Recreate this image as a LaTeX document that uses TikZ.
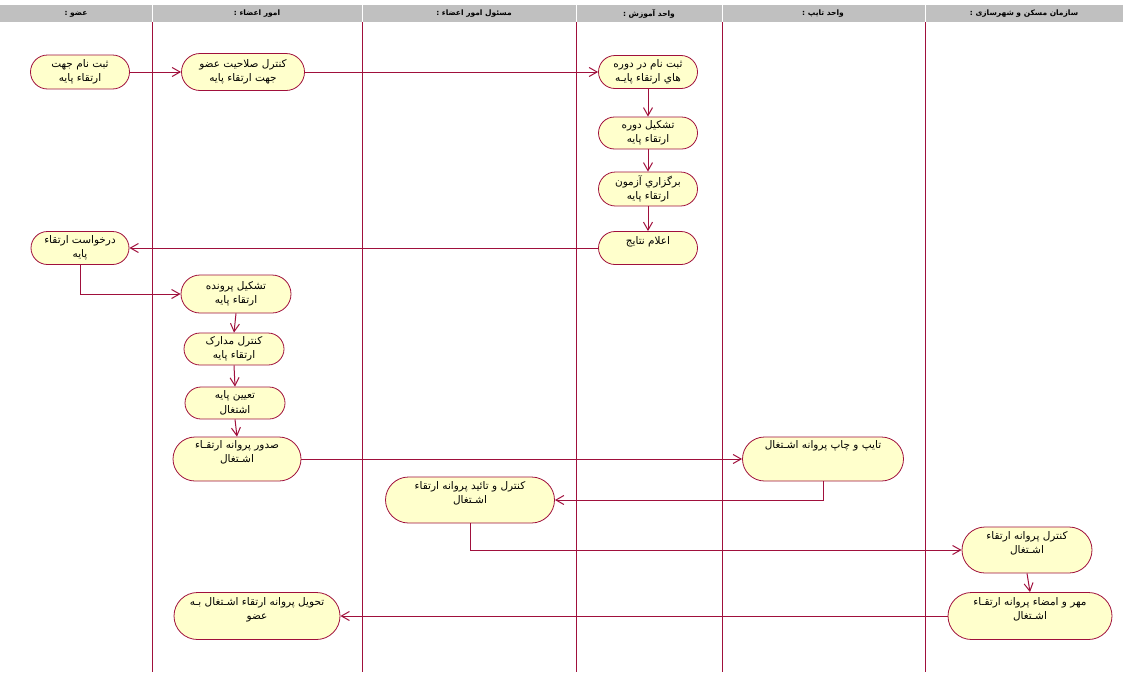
\documentclass[tikz,border=0pt]{standalone}
\usepackage{fontspec}
\usetikzlibrary{positioning,shapes.misc,arrows.meta}
\TeXXeTstate=1
\newfontfamily\arabicfont[Script=Arabic]{DejaVu Sans}
\def\rtl#1{\beginR #1\endR}
\definecolor{swim}{RGB}{160,16,60}
\definecolor{actfill}{RGB}{255,255,204}
\definecolor{headgrey}{RGB}{192,192,192}

\begin{document}
\begin{tikzpicture}[x=1pt,y=-1pt,>={Straight Barb[length=8pt,width=9pt]},
	act/.style={rounded rectangle,draw=swim,fill=actfill,line width=0.8pt,align=center,inner sep=1pt,font=\arabicfont\fontsize{10.5}{14.5}\selectfont},
	flow/.style={->,draw=swim,line width=1pt},
	lane/.style={draw=swim,line width=0.8pt},
	head/.style={font=\arabicfont\bfseries\fontsize{7.5}{8}\selectfont}]
	\useasboundingbox (0,0) rectangle (1123,672);
	% swimlane header and lanes
	\fill [headgrey] (0,5) rectangle (1123,22);
	\foreach \x in {152,362,576,722,925} {
		\draw [white,line width=1pt] (\x,5) -- (\x,22);
		\draw [lane] (\x,22) -- (\x,672);
	}
	\node [head] at (76,14) (hmember) {\rtl{عضو :}};
	\node [head] at (257,14) (haffairs) {\rtl{امور اعضاء :}};
	\node [head] at (474,14) (hhead) {\rtl{مسئول امور اعضاء :}};
	\node [head] at (649,14) (htrain) {\rtl{واحد آموزش :}};
	\node [head] at (823,14) (htype) {\rtl{واحد تایپ :}};
	\node [head] at (1024,14) (horg) {\rtl{سازمان مسکن و شهرسازی :}};
	% activities
	\node [act,minimum width=101pt,minimum height=34pt] at (80,72) (register) {\rtl{ثبت نام جهت}\\\rtl{ارتقاء پایه}};
	\node [act,minimum width=125pt,minimum height=37pt] at (243,72) (check) {\rtl{کنترل صلاحیت عضو}\\\rtl{جهت ارتقاء پایه}};
	\node [act,minimum width=101pt,minimum height=33pt] at (648,72) (enrol) {\rtl{ثبت نام در دوره}\\\rtl{هاي ارتقاء پایـه}};
	\node [act,minimum width=101pt,minimum height=32pt] at (648,133) (course) {\rtl{تشکیل دوره}\\\rtl{ارتقاء پایه}};
	\node [act,minimum width=101pt,minimum height=34pt] at (648,189) (exam) {\rtl{برگزاري آزمون}\\\rtl{ارتقاء پایه}};
	\node [act,minimum width=101pt,minimum height=33pt] at (648,248) (results) {\rtl{اعلام نتایج}\\\mbox{}};
	\node [act,minimum width=100pt,minimum height=33pt] at (80,248) (request) {\rtl{درخواست ارتقاء}\\\rtl{پایه}};
	\node [act,minimum width=112pt,minimum height=38pt] at (236,294) (file) {\rtl{تشکیل پرونده}\\\rtl{ارتقاء پایه}};
	\node [act,minimum width=102pt,minimum height=32pt] at (234,349) (docs) {\rtl{کنترل مدارک}\\\rtl{ارتقاء پایه}};
	\node [act,minimum width=102pt,minimum height=32pt] at (235,403) (grade) {\rtl{تعیین پایه}\\\rtl{اشتغال}};
	\node [act,minimum width=130pt,minimum height=44pt] at (237,459) (issue) {\rtl{صدور پروانه ارتقـاء}\\\rtl{اشـتغال}\\\mbox{}};
	\node [act,minimum width=163pt,minimum height=44pt] at (823,459) (typing) {\rtl{تایپ و چاپ پروانه اشـتغال}\\\mbox{}\\\mbox{}};
	\node [act,minimum width=171pt,minimum height=46pt] at (470,500) (approve) {\rtl{کنترل و تائید پروانه ارتقاء}\\\rtl{اشـتغال}\\\mbox{}};
	\node [act,minimum width=132pt,minimum height=46pt] at (1027,550) (verify) {\rtl{کنترل پروانه ارتقاء}\\\rtl{اشـتغال}\\\mbox{}};
	\node [act,minimum width=166pt,minimum height=47pt] at (1030,616) (stamp) {\rtl{مهر و امضاء پروانه ارتقـاء}\\\rtl{اشـتغال}\\\mbox{}};
	\node [act,minimum width=168pt,minimum height=47pt] at (257,616) (deliver) {\rtl{تحویل پروانه ارتقاء اشـتغال بـه}\\\rtl{عضو}\\\mbox{}};
	% flows
	\draw [flow] (register.east) -- (check.west);
	\draw [flow] (check.east) -- (enrol.west);
	\draw [flow] (enrol.south) -- (course.north);
	\draw [flow] (course.south) -- (exam.north);
	\draw [flow] (exam.south) -- (results.north);
	\draw [flow] (results.west) -- (request.east);
	\draw [flow] (request.south) |- (file.west);
	\draw [flow] (file.south) -- (docs.north);
	\draw [flow] (docs.south) -- (grade.north);
	\draw [flow] (grade.south) -- (issue.north);
	\draw [flow] (issue.east) -- (typing.west);
	\draw [flow] (typing.south) |- (approve.east);
	\draw [flow] (approve.south) |- (verify.west);
	\draw [flow] (verify.south) -- (stamp.north);
	\draw [flow] (stamp.west) -- (deliver.east);
\end{tikzpicture}
\end{document}
